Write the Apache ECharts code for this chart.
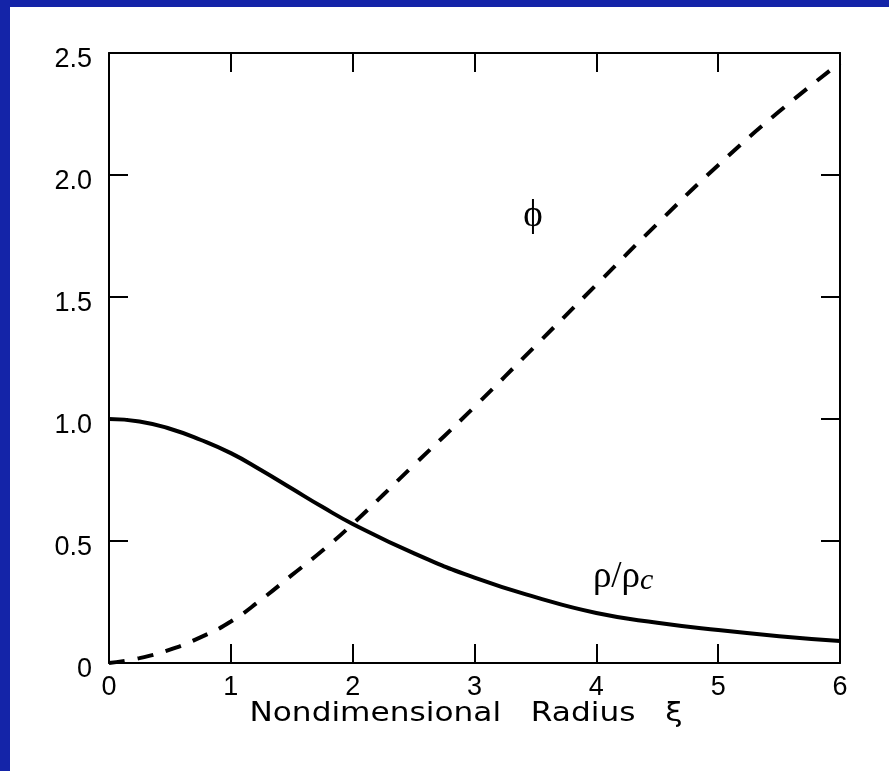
<!DOCTYPE html>
<html>
<head>
<meta charset="utf-8">
<title>Isothermal sphere</title>
<script src="https://cdn.jsdelivr.net/npm/echarts@6/dist/echarts.min.js"></script>
<style>
  html, body { margin: 0; padding: 0; background: #1424a8; }
  #chart {
    position: absolute;
    left: 10px;
    top: 7px;
    width: 879px;
    height: 764px;
    background: #ffffff;
  }
</style>
</head>
<body>
<div id="chart"></div>
<script>
// nondimensional radius xi
const xi = [0, 0.25, 0.5, 0.75, 1, 1.25, 1.5, 1.75, 2, 2.5, 3, 3.5, 4, 4.5, 5, 5.5, 6]
// density ratio rho/rho_c (solid)
const rhoRatio = [1.0, 0.99, 0.96, 0.915, 0.86, 0.79, 0.715, 0.64, 0.57, 0.45, 0.35, 0.27, 0.205, 0.165, 0.135, 0.11, 0.09]
// potential phi (dashed)
const phi = [0, 0.02, 0.055, 0.105, 0.17, 0.26, 0.36, 0.46, 0.57, 0.81, 1.05, 1.3, 1.55, 1.8, 2.04, 2.26, 2.46]

const xTickLabels = ['0', '1', '2', '3', '4', '5', '6']
const yTickLabels = ['0', '0.5', '1.0', '1.5', '2.0', '2.5']
const xTitle = 'Nondimensional   Radius   ξ'

// where the curve names sit, in data units
const phiLabelAt = [3.48, 1.83]
const rhoLabelAt = [4.22, 0.35]

const chart = echarts.init(document.getElementById('chart'))

const tickFont = { fontFamily: 'Liberation Sans', fontSize: 27, color: '#000' }
const axisLine = { show: true, onZero: false, lineStyle: { color: '#000', width: 2 } }
const tickIn = { show: true, inside: true, length: 19, lineStyle: { color: '#000', width: 2 } }

const option = {
  animation: false,
  grid: { left: 99, right: 49, top: 46, bottom: 108 },
  // axis title is set a bit wider than the font, like the original lettering
  graphic: [{
    type: 'text',
    x: 456,
    y: 707,
    scaleX: 1.2,
    style: {
      text: xTitle,
      fontFamily: 'DejaVu Sans',
      fontSize: 26,
      fill: '#000',
      align: 'center',
      verticalAlign: 'middle'
    }
  }],
  xAxis: [
    {
      type: 'value',
      min: 0,
      max: 6,
      interval: 1,
      position: 'bottom',
      axisLine: axisLine,
      axisTick: tickIn,
      splitLine: { show: false },
      axisLabel: Object.assign({
        margin: 11,
        formatter: v => xTickLabels[Math.round(v)]
      }, tickFont)
    },
    {
      type: 'value',
      min: 0,
      max: 6,
      interval: 1,
      position: 'top',
      axisLine: axisLine,
      axisTick: tickIn,
      splitLine: { show: false },
      axisLabel: { show: false }
    }
  ],
  yAxis: [
    {
      type: 'value',
      min: 0,
      max: 2.5,
      interval: 0.5,
      position: 'left',
      axisLine: axisLine,
      axisTick: tickIn,
      splitLine: { show: false },
      axisLabel: Object.assign({
        margin: 17,
        verticalAlign: 'top',
        lineHeight: 14,
        formatter: v => yTickLabels[Math.round(v * 2)]
      }, tickFont)
    },
    {
      type: 'value',
      min: 0,
      max: 2.5,
      interval: 0.5,
      position: 'right',
      axisLine: axisLine,
      axisTick: tickIn,
      splitLine: { show: false },
      axisLabel: { show: false }
    }
  ],
  series: [
    {
      name: 'rho',
      type: 'line',
      smooth: 0.5,
      showSymbol: false,
      data: xi.map((x, i) => [x, rhoRatio[i]]),
      lineStyle: { color: '#000', width: 4 },
      markPoint: {
        symbol: 'circle',
        symbolSize: 0,
        data: [{
          coord: rhoLabelAt,
          label: {
            show: true,
            position: 'inside',
            formatter: '{a|ρ/ρ}{b|c}',
            rich: {
              a: { fontFamily: 'Liberation Serif', fontSize: 37, color: '#000', lineHeight: 38 },
              b: { fontFamily: 'Liberation Serif', fontStyle: 'italic', fontSize: 30, color: '#000',
                   verticalAlign: 'bottom', padding: [14, 0, 0, 0], lineHeight: 30 }
            }
          }
        }]
      }
    },
    {
      name: 'phi',
      type: 'line',
      smooth: 0.5,
      showSymbol: false,
      data: xi.map((x, i) => [x, phi[i]]),
      lineStyle: { color: '#000', width: 4, type: [16, 13], cap: 'butt' },
      markPoint: {
        symbol: 'circle',
        symbolSize: 0,
        data: [{
          coord: phiLabelAt,
          label: {
            show: true,
            position: 'inside',
            formatter: 'ϕ',
            fontFamily: 'Liberation Serif, DejaVu Serif',
            fontSize: 37,
            color: '#000'
          }
        }]
      }
    }
  ]
}

chart.setOption(option)
</script>
</body>
</html>
